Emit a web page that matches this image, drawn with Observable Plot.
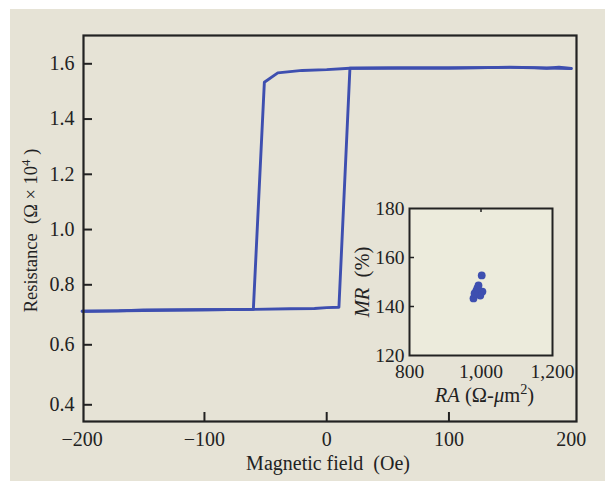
<!DOCTYPE html>
<html><head><meta charset="utf-8">
<script src="https://cdn.jsdelivr.net/npm/d3@7"></script>
<script src="https://cdn.jsdelivr.net/npm/@observablehq/plot@0.6"></script>
<style>
html,body{margin:0;padding:0;background:#fff;}
#wrap{position:relative;width:605px;height:481px;overflow:hidden;}
#main{position:absolute;left:10px;top:9px;}
#inset{position:absolute;left:340px;top:190px;}
svg text{fill:#222;}
</style></head><body>
<div id="wrap"><div id="main"></div><div id="inset"></div></div>
<script>
// ---- data ----
const upField      = [-200, -170, -150, -100, -60, -30, -10, 0, 10, 19, 50, 100, 130, 150, 170, 180, 190, 200];
const upResistance = [0.712, 0.713, 0.716, 0.717, 0.718, 0.720, 0.721, 0.724, 0.725, 1.584, 1.585, 1.585, 1.586, 1.588, 1.586, 1.584, 1.588, 1.583];
const downField      = [200, 150, 100, 60, 19, 0, -20, -40, -51, -60, -100, -200];
const downResistance = [1.583, 1.587, 1.585, 1.585, 1.584, 1.579, 1.576, 1.567, 1.533, 0.718, 0.717, 0.712];
const insetRA = [1002, 979, 987, 993, 1004, 998, 982, 990];
const insetMR = [152.7, 143.3, 146.5, 148.6, 146.1, 144.5, 145.3, 147.5];
const xTicks = [-200, -100, 0, 100, 200];
const yTicks = [0.4, 0.6, 0.8, 1.0, 1.2, 1.4, 1.6];
const insetXTicks = [800, 1000, 1200];
const insetYTicks = [120, 140, 160, 180];

const blue = "#3e4fb0";
const ink = "#222";

const up = upField.map((f, i) => ({field: f, r: upResistance[i]}));
const down = downField.map((f, i) => ({field: f, r: downResistance[i]}));
const pts = insetRA.map((a, i) => ({ra: a, mr: insetMR[i]}));

// ---- main chart ----
const W = 595, H = 472, mL = 73, mR = 29, mT = 26, mB = 60;
const plotW = W - mL - mR, plotH = H - mT - mB;
const main = Plot.plot({
  width: W, height: H,
  marginLeft: mL, marginRight: mR, marginTop: mT, marginBottom: mB,
  style: {background: "#e6e3d6", fontFamily: "'Liberation Serif', 'Times New Roman', serif", fontSize: "20px", color: ink},
  x: {type: "linear", domain: [-200, 200], range: [71.7, 560.7]},
  y: {type: "linear", domain: [0.4, 0.8, 1.6], range: [395.3, 275.3, 54.3]},
  marks: [
    Plot.line(up, {x: "field", y: "r", stroke: blue, strokeWidth: 2.9, strokeLinejoin: "round"}),
    Plot.line(down, {x: "field", y: "r", stroke: blue, strokeWidth: 2.9, strokeLinejoin: "round"}),
    Plot.ruleX(xTicks.slice(1, -1), {x: d => d, insetTop: plotH - 9, stroke: ink, strokeWidth: 2}),
    Plot.ruleY(yTicks, {y: d => d, insetRight: plotW - 9, stroke: ink, strokeWidth: 2}),
    Plot.frame({stroke: ink, strokeWidth: 2.2}),
    Plot.axisX({ticks: xTicks, tickSize: 0, tickPadding: 10, label: null, fill: ink}),
    Plot.axisY({ticks: yTicks, tickSize: 0, tickPadding: 9, tickFormat: d => d.toFixed(1), label: null, fill: ink}),
    Plot.text(["Magnetic field\u00a0 (Oe)"], {frameAnchor: "bottom", dx: -2, dy: 42, lineAnchor: "middle", textAnchor: "middle", fill: ink}),
    Plot.text(["Resistance\u00a0 (Ω × 10^4 )"], {frameAnchor: "left", dx: -52, dy: 2, rotate: -90, lineAnchor: "middle", textAnchor: "middle", fontSize: 18.5, fill: ink})
  ]
});
document.getElementById("main").appendChild(main);

// ---- inset ----
const iW = 240, iH = 220, iL = 69, iR = 28, iT = 18, iB = 55;
const iPlotW = iW - iL - iR, iPlotH = iH - iT - iB;
const inset = Plot.plot({
  width: iW, height: iH,
  marginLeft: iL, marginRight: iR, marginTop: iT, marginBottom: iB,
  style: {background: "transparent", fontFamily: "'Liberation Serif', 'Times New Roman', serif", fontSize: "19.5px", color: ink, overflow: "visible"},
  x: {domain: [800, 1200]},
  y: {domain: [120, 180]},
  marks: [
    Plot.frame({fill: "#ecebdc"}),
    Plot.dot(pts, {x: "ra", y: "mr", r: 3.9, fill: blue}),
    Plot.ruleX([1000], {x: d => d, insetBottom: iPlotH - 4, stroke: ink, strokeWidth: 1.5}),
    Plot.ruleY([140, 160], {y: d => d, insetRight: iPlotW - 5, stroke: ink, strokeWidth: 1.5}),
    Plot.frame({stroke: ink, strokeWidth: 2}),
    Plot.axisX({ticks: insetXTicks, tickSize: 0, tickPadding: 9, tickFormat: d3.format(","), label: null, fill: ink}),
    Plot.axisY({ticks: insetYTicks, tickSize: 0, tickPadding: 5, label: null, fill: ink}),
    Plot.text(["RA (Ω-μm^2)"], {frameAnchor: "bottom", dx: 3.5, dy: 40, lineAnchor: "middle", textAnchor: "middle", fontSize: 20.5, fill: ink}),
    Plot.text(["MR (%)"], {frameAnchor: "left", dx: -47, rotate: -90, lineAnchor: "middle", textAnchor: "middle", fontSize: 20.5, fill: ink})
  ]
});
document.getElementById("inset").appendChild(inset);

// ---- rich text (italics, superscripts) ----
function rich(svg, match, parts) {
  svg.querySelectorAll("text").forEach(t => {
    if (t.textContent !== match) return;
    while (t.firstChild) t.removeChild(t.firstChild);
    const ns = "http://www.w3.org/2000/svg";
    parts.forEach(p => {
      const s = document.createElementNS(ns, "tspan");
      s.textContent = p.t;
      if (p.i) s.setAttribute("font-style", "italic");
      if (p.sup) { s.setAttribute("baseline-shift", "super"); s.setAttribute("font-size", "70%"); }
      t.appendChild(s);
    });
  });
}
rich(main, "Resistance\u00a0 (Ω × 10^4 )", [{t: "Resistance\u00a0 (Ω × 10"}, {t: "4", sup: true}, {t: "\u00a0)"}]);
rich(inset, "RA (Ω-μm^2)", [{t: "RA", i: true}, {t: " (Ω-"}, {t: "μ", i: true}, {t: "m"}, {t: "2", sup: true}, {t: ")"}]);
rich(inset, "MR (%)", [{t: "MR", i: true}, {t: "\u00a0 (%)"}]);
</script>
</body></html>
